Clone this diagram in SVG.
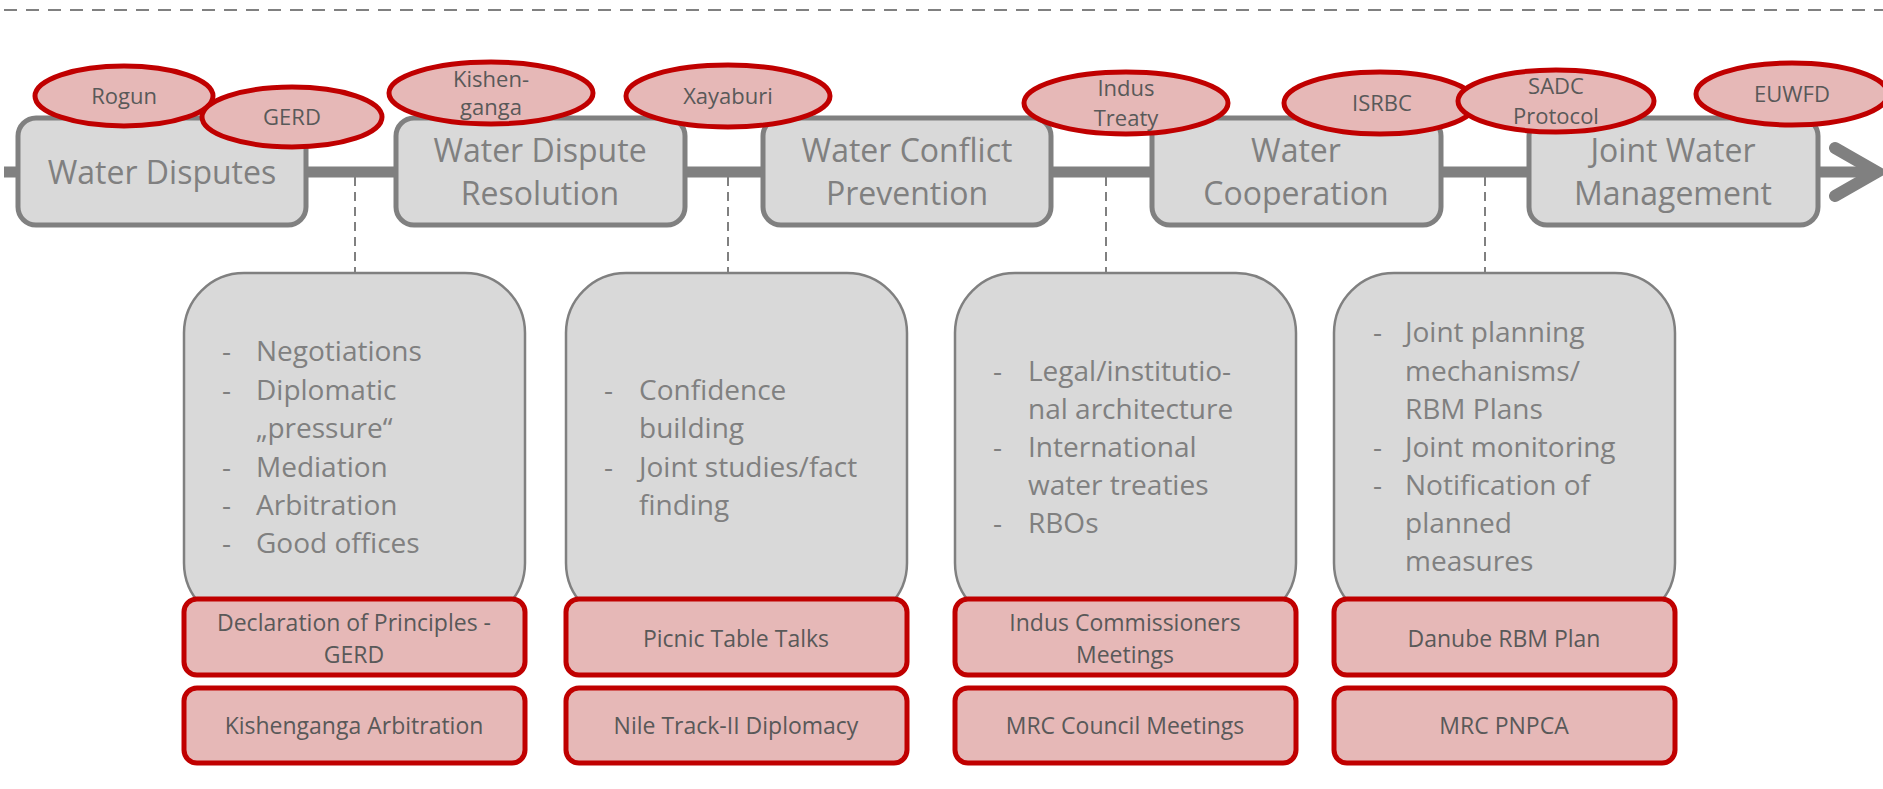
<svg xmlns="http://www.w3.org/2000/svg" width="1883" height="789" viewBox="0 0 1883 789">
<style>
.stage{fill:#d9d9d9;stroke:#808080;stroke-width:5}
.stxt{font-family:"Open Sans","Noto Sans",sans-serif;font-size:32px;fill:#808080;text-anchor:middle}
.ell{fill:#e6b8b7;stroke:#c00000;stroke-width:5}
.etxt{font-family:"Open Sans","Noto Sans",sans-serif;font-size:22px;fill:#595959;text-anchor:middle}
.panel{fill:#d9d9d9;stroke:#808080;stroke-width:2.5}
.btxt{font-family:"Open Sans","Noto Sans",sans-serif;font-size:28px;fill:#808080}
.ex{fill:#e6b8b7;stroke:#c00000;stroke-width:5}
.xtxt{font-family:"Open Sans","Noto Sans",sans-serif;font-size:23px;fill:#595959;text-anchor:middle}
.dash{stroke:#808080;stroke-width:2;stroke-dasharray:9 6;fill:none}
</style>
<line x1="4" y1="10" x2="1883" y2="10" stroke="#808080" stroke-width="2" stroke-dasharray="13 9"/>
<g id="connectors">
<line x1="4" y1="172" x2="1872" y2="172" stroke="#808080" stroke-width="11"/>
<polyline points="1835,148 1877,172 1835,196" fill="none" stroke="#808080" stroke-width="12" stroke-linecap="round" stroke-linejoin="miter"/>
<line class="dash" x1="355" y1="177" x2="355" y2="273"/>
<line class="dash" x1="728" y1="177" x2="728" y2="273"/>
<line class="dash" x1="1106" y1="177" x2="1106" y2="273"/>
<line class="dash" x1="1485" y1="177" x2="1485" y2="273"/>
</g>
<g id="stage-water-disputes">
<rect class="stage" x="18" y="118" width="288" height="107" rx="18"/>
<text class="stxt" x="162" y="184">Water Disputes</text>
</g>
<g id="stage-dispute-resolution">
<rect class="stage" x="396" y="118" width="289" height="107" rx="18"/>
<text class="stxt" x="540" y="162">Water Dispute</text>
<text class="stxt" x="540" y="205">Resolution</text>
</g>
<g id="stage-conflict-prevention">
<rect class="stage" x="763" y="118" width="288" height="107" rx="18"/>
<text class="stxt" x="907" y="162">Water Conflict</text>
<text class="stxt" x="907" y="205">Prevention</text>
</g>
<g id="stage-cooperation">
<rect class="stage" x="1152" y="118" width="289" height="107" rx="18"/>
<text class="stxt" x="1296" y="162">Water</text>
<text class="stxt" x="1296" y="205">Cooperation</text>
</g>
<g id="stage-joint-management">
<rect class="stage" x="1529" y="118" width="289" height="107" rx="18"/>
<text class="stxt" x="1673" y="162">Joint Water</text>
<text class="stxt" x="1673" y="205">Management</text>
</g>
<g id="case-rogun">
<ellipse class="ell" cx="124" cy="96" rx="89" ry="30"/>
<text class="etxt" x="124" y="104">Rogun</text>
</g>
<g id="case-gerd">
<ellipse class="ell" cx="292" cy="117" rx="90" ry="30"/>
<text class="etxt" x="292" y="125">GERD</text>
</g>
<g id="case-kishenganga">
<ellipse class="ell" cx="491" cy="93" rx="102" ry="31"/>
<text class="etxt" x="491" y="87">Kishen-</text>
<text class="etxt" x="491" y="115">ganga</text>
</g>
<g id="case-xayaburi">
<ellipse class="ell" cx="728" cy="96" rx="102" ry="31"/>
<text class="etxt" x="728" y="104">Xayaburi</text>
</g>
<g id="case-indus-treaty">
<ellipse class="ell" cx="1126" cy="103" rx="102" ry="31"/>
<text class="etxt" x="1126" y="96">Indus</text>
<text class="etxt" x="1126" y="126">Treaty</text>
</g>
<g id="case-isrbc">
<ellipse class="ell" cx="1380" cy="103" rx="96" ry="31"/>
<text class="etxt" x="1382" y="111">ISRBC</text>
</g>
<g id="case-sadc">
<ellipse class="ell" cx="1556" cy="101" rx="98" ry="31"/>
<text class="etxt" x="1556" y="94">SADC</text>
<text class="etxt" x="1556" y="124">Protocol</text>
</g>
<g id="case-euwfd">
<ellipse class="ell" cx="1792" cy="94" rx="96" ry="31"/>
<text class="etxt" x="1792" y="102">EUWFD</text>
</g>
<g id="panel-1">
<rect class="panel" x="184" y="273" width="341" height="350" rx="60"/>
<g class="btxt">
<text x="222" y="361">-</text><text x="256" y="361">Negotiations</text>
<text x="222" y="400">-</text><text x="256" y="400">Diplomatic</text>
<text x="256" y="438">„pressure“</text>
<text x="222" y="477">-</text><text x="256" y="477">Mediation</text>
<text x="222" y="515">-</text><text x="256" y="515">Arbitration</text>
<text x="222" y="553">-</text><text x="256" y="553">Good offices</text>
</g>
</g>
<g id="panel-2">
<rect class="panel" x="566" y="273" width="341" height="350" rx="60"/>
<g class="btxt">
<text x="604" y="400">-</text><text x="639" y="400">Confidence</text>
<text x="639" y="438">building</text>
<text x="604" y="477">-</text><text x="639" y="477">Joint studies/fact</text>
<text x="639" y="515">finding</text>
</g>
</g>
<g id="panel-3">
<rect class="panel" x="955" y="273" width="341" height="350" rx="60"/>
<g class="btxt">
<text x="993" y="381">-</text><text x="1028" y="381">Legal/institutio-</text>
<text x="1028" y="419">nal architecture</text>
<text x="993" y="457">-</text><text x="1028" y="457">International</text>
<text x="1028" y="495">water treaties</text>
<text x="993" y="533">-</text><text x="1028" y="533">RBOs</text>
</g>
</g>
<g id="panel-4">
<rect class="panel" x="1334" y="273" width="341" height="350" rx="60"/>
<g class="btxt">
<text x="1373" y="342">-</text><text x="1405" y="342">Joint planning</text>
<text x="1405" y="381">mechanisms/</text>
<text x="1405" y="419">RBM Plans</text>
<text x="1373" y="457">-</text><text x="1405" y="457">Joint monitoring</text>
<text x="1373" y="495">-</text><text x="1405" y="495">Notification of</text>
<text x="1405" y="533">planned</text>
<text x="1405" y="571">measures</text>
</g>
</g>
<g id="example-declaration">
<rect class="ex" x="184" y="599" width="341" height="76" rx="13"/>
<text class="xtxt" x="354" y="631">Declaration of Principles -</text>
<text class="xtxt" x="354" y="663">GERD</text>
</g>
<g id="example-kishenganga-arbitration">
<rect class="ex" x="184" y="688" width="341" height="75" rx="13"/>
<text class="xtxt" x="354" y="734">Kishenganga Arbitration</text>
</g>
<g id="example-picnic">
<rect class="ex" x="566" y="599" width="341" height="76" rx="13"/>
<text class="xtxt" x="736" y="647">Picnic Table Talks</text>
</g>
<g id="example-nile">
<rect class="ex" x="566" y="688" width="341" height="75" rx="13"/>
<text class="xtxt" x="736" y="734">Nile Track-II Diplomacy</text>
</g>
<g id="example-indus-commissioners">
<rect class="ex" x="955" y="599" width="341" height="76" rx="13"/>
<text class="xtxt" x="1125" y="631">Indus Commissioners</text>
<text class="xtxt" x="1125" y="663">Meetings</text>
</g>
<g id="example-mrc-council">
<rect class="ex" x="955" y="688" width="341" height="75" rx="13"/>
<text class="xtxt" x="1125" y="734">MRC Council Meetings</text>
</g>
<g id="example-danube">
<rect class="ex" x="1334" y="599" width="341" height="76" rx="13"/>
<text class="xtxt" x="1504" y="647">Danube RBM Plan</text>
</g>
<g id="example-mrc-pnpca">
<rect class="ex" x="1334" y="688" width="341" height="75" rx="13"/>
<text class="xtxt" x="1504" y="734">MRC PNPCA</text>
</g>
</svg>
